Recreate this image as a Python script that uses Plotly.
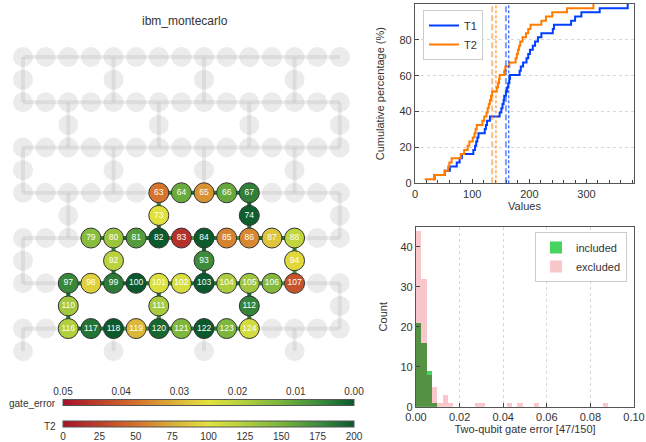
import numpy as np
import plotly.graph_objects as go
from plotly.colors import sample_colorscale

backend_name = "ibm_montecarlo"

# heavy-hex layout: 7 rows of 15 qubits, 4 bridge qubits below each row
row_first = [0, 19, 38, 57, 76, 95, 114]
bridge_first = [15, 34, 53, 72, 91, 110, 129]
bridge_cols_even = [0, 4, 8, 12]
bridge_cols_odd = [2, 6, 10, 14]
row_len = 15

# selected qubits with their T1 / T2 (us)
sel_qubits = [63, 64, 65, 66, 67, 73, 74, 79, 80, 81, 82, 83, 84, 85, 86, 87, 88, 92, 93, 94,
              97, 98, 99, 100, 101, 102, 103, 104, 105, 106, 107, 110, 111, 112,
              116, 117, 118, 119, 120, 121, 122, 123, 124]
sel_t2 = [52, 156, 64, 158, 182, 101, 198, 143, 135, 165, 202, 17, 221, 58, 60, 86, 118, 121, 176, 95,
          178, 92, 184, 240, 104, 106, 229, 127, 133, 145, 35, 131, 129, 180,
          125, 188, 266, 80, 194, 147, 312, 148, 108]
sel_t1 = [122, 189, 105, 241, 153, 161, 221, 82, 198, 148, 273, 34, 210, 109, 131, 155, 166, 102, 201, 126,
          183, 73, 243, 291, 159, 111, 206, 151, 163, 195, 52, 124, 165, 215,
          107, 280, 323, 61, 185, 156, 372, 78, 32]

# two-qubit gates between selected qubits and their error
cz_pairs = [(63, 64), (64, 65), (65, 66), (66, 67), (63, 73), (73, 82), (67, 74), (74, 86),
            (79, 80), (80, 81), (81, 82), (82, 83), (83, 84), (84, 85), (85, 86), (86, 87), (87, 88),
            (80, 92), (92, 99), (84, 93), (93, 103), (88, 94), (94, 107),
            (97, 98), (98, 99), (99, 100), (100, 101), (101, 102), (102, 103), (103, 104),
            (104, 105), (105, 106), (106, 107),
            (97, 110), (110, 116), (101, 111), (111, 120), (105, 112), (112, 124),
            (116, 117), (117, 118), (118, 119), (119, 120), (120, 121), (121, 122), (122, 123), (123, 124)]
cz_error = [0.0031, 0.0019, 0.0024, 0.0016, 0.0052, 0.0022, 0.0014, 0.0036,
            0.0041, 0.0018, 0.0021, 0.0058, 0.0081, 0.0027, 0.0063, 0.0019, 0.0033,
            0.0055, 0.0023, 0.0012, 0.0017, 0.0044, 0.0067,
            0.0029, 0.0015, 0.0011, 0.0020, 0.0038, 0.0022, 0.0026,
            0.0013, 0.0047, 0.0059,
            0.0018, 0.0034, 0.0016, 0.0050, 0.0021, 0.0039,
            0.0010, 0.0028, 0.0061, 0.0043, 0.0019, 0.0031, 0.0035, 0.0054]

# histogram of the other 103 gates
bin_size = 0.00245
excluded_counts = [44, 32, 8, 5, 1, 3, 1, 0, 0, 0, 0, 1, 1, 0, 0, 0, 0, 1,
                   0, 1, 0, 0, 1, 0, 0, 0, 0, 0, 0, 0, 0, 0, 0, 0, 0, 1]
n_edges_total = 150

t2_ticks = [0, 25, 50, 75, 100, 125, 150, 175, 200]
err_ticks = [0.0, 0.01, 0.02, 0.03, 0.04, 0.05]

cscale = [[0.0, "rgb(168,16,42)"], [0.25, "rgb(212,112,44)"], [0.4, "rgb(220,184,58)"],
          [0.5, "rgb(226,226,60)"], [0.62, "rgb(180,208,62)"], [0.75, "rgb(120,180,60)"],
          [0.88, "rgb(60,140,60)"], [1.0, "rgb(10,90,45)"]]

FONT = "Liberation Sans, Arial, sans-serif"
W, H = 646, 442
unit = 22.63

# positions / edges of the full device
pos = {}
all_edges = []
for r, q0 in enumerate(row_first):
    cols = bridge_cols_even if r % 2 == 0 else bridge_cols_odd
    for c in range(row_len):
        pos[q0 + c] = (c, 2 * r)
        if c < row_len - 1:
            all_edges.append((q0 + c, q0 + c + 1))
    for k, c in enumerate(cols):
        b = bridge_first[r] + k
        pos[b] = (c, 2 * r + 1)
        all_edges.append((q0 + c, b))
        if r + 1 < len(row_first):
            all_edges.append((b, row_first[r + 1] + c))

fig = go.Figure()

ex, ey = [], []
for a, b in all_edges:
    ex += [pos[a][0], pos[b][0], None]
    ey += [pos[a][1], pos[b][1], None]
fig.add_trace(go.Scatter(x=ex, y=ey, mode="lines", line=dict(color="rgba(170,170,170,0.22)", width=4),
                         hoverinfo="skip", showlegend=False))
qs = sorted(pos)
fig.add_trace(go.Scatter(x=[pos[q][0] for q in qs], y=[pos[q][1] for q in qs], mode="markers",
                         marker=dict(size=20, color="rgba(170,170,170,0.24)", line=dict(width=0)),
                         hoverinfo="skip", showlegend=False))

edge_cols = sample_colorscale(cscale, [(0.05 - e) / 0.05 for e in cz_error])
for (a, b), col in zip(cz_pairs, edge_cols):
    fig.add_trace(go.Scatter(x=[pos[a][0], pos[b][0]], y=[pos[a][1], pos[b][1]], mode="lines",
                             line=dict(color=col, width=4), hoverinfo="skip", showlegend=False))

fig.add_trace(go.Scatter(
    x=[pos[q][0] for q in sel_qubits], y=[pos[q][1] for q in sel_qubits],
    mode="markers+text", text=[str(q) for q in sel_qubits],
    textfont=dict(color="white", size=8.5, family=FONT), textposition="middle center",
    marker=dict(size=20, color=sel_t2, colorscale=cscale, cmin=0, cmax=200,
                line=dict(color="#333333", width=1),
                colorbar=dict(orientation="h", x=63 / W, xanchor="left", len=291 / W, lenmode="fraction",
                              y=1 - 430 / H, yanchor="middle", thickness=6, xpad=0, ypad=0,
                              outlinewidth=1, outlinecolor="#555555", tickvals=t2_ticks, ticks="",
                              tickfont=dict(size=10, color="#333333", family=FONT))),
    showlegend=False, hovertemplate="Q%{text}<br>T2=%{marker.color}<extra></extra>"))

# dummy trace carrying the gate_error colorbar (scale shown right-to-left)
fig.add_trace(go.Scatter(
    x=cz_error, y=[0] * len(cz_error), xaxis="x4", yaxis="y4", mode="markers",
    marker=dict(size=1, opacity=0, color=[-e for e in cz_error], colorscale=cscale, cmin=-0.05, cmax=0,
                colorbar=dict(orientation="h", x=63 / W, xanchor="left", len=291 / W, lenmode="fraction",
                              y=1 - 403 / H, yanchor="middle", thickness=6, xpad=0, ypad=0,
                              outlinewidth=1, outlinecolor="#555555", showticklabels=False, ticks="")),
    hoverinfo="skip", showlegend=False))

# CDF of T1 / T2
for name, vals, col in [("T1", sel_t1, "#023eff"), ("T2", sel_t2, "#ff7c00")]:
    v = np.sort(vals)
    pct = np.arange(1, len(v) + 1) / len(v) * 100
    fig.add_trace(go.Scatter(x=v, y=pct, mode="lines", line=dict(color=col, width=2, shape="hv"),
                             name=name, xaxis="x2", yaxis="y2", legend="legend"))
    fig.add_shape(type="line", xref="x2", yref="y2 domain", x0=np.median(v), x1=np.median(v), y0=0, y1=1,
                  line=dict(color=col, width=2, dash="6px,3px"), opacity=0.5)
    fig.add_shape(type="line", xref="x2", yref="y2 domain", x0=np.mean(v), x1=np.mean(v), y0=0, y1=1,
                  line=dict(color=col, width=1, dash="3px,2px"))

# gate error histogram
nb = len(excluded_counts)
edges_bins = np.arange(nb + 1) * bin_size
centers = (edges_bins[:-1] + edges_bins[1:]) / 2
included_counts = np.histogram(cz_error, bins=edges_bins)[0]
overlap = np.minimum(included_counts, excluded_counts)
fig.add_trace(go.Bar(x=centers, y=excluded_counts, width=bin_size, marker=dict(color="#f9c6cc", line=dict(width=0)),
                     name="excluded", xaxis="x3", yaxis="y3", legend="legend2"))
fig.add_trace(go.Bar(x=centers, y=included_counts, width=bin_size, marker=dict(color="#48d460", line=dict(width=0)),
                     name="included", xaxis="x3", yaxis="y3", legend="legend2"))
fig.add_trace(go.Bar(x=centers, y=overlap, width=bin_size, marker=dict(color="#559243", line=dict(width=0)),
                     showlegend=False, xaxis="x3", yaxis="y3", hoverinfo="skip"))

axis_style = dict(showline=True, linecolor="#555555", linewidth=1.2, mirror=True, ticks="inside",
                  ticklen=4, tickcolor="#444444", zeroline=False,
                  tickfont=dict(size=11, color="#333333", family=FONT))

fig.update_layout(
    width=W, height=H, margin=dict(l=0, r=0, t=0, b=0, autoexpand=False),
    paper_bgcolor="white", plot_bgcolor="white",
    font=dict(family=FONT, color="#333333", size=11),
    barmode="overlay", bargap=0,
    xaxis=dict(domain=[0, 363 / W], range=[-23 / unit, (363 - 23) / unit], visible=False),
    yaxis=dict(domain=[1 - 375 / H, 1 - 34 / H], range=[(375 - 57) / unit, (34 - 57) / unit], visible=False),
    xaxis2=dict(domain=[415 / W, 634 / W], range=[0, 383], tickvals=[0, 100, 200, 300], anchor="y2",
                showgrid=False, title=dict(text="Values", font=dict(size=11), standoff=2),
                minor=dict(dtick=20, tick0=0, ticks="inside", ticklen=3, tickcolor="#444444"),
                **axis_style),
    yaxis2=dict(domain=[1 - 183.3 / H, 1 - 4 / H], range=[0, 100], dtick=20, anchor="x2",
                showgrid=True, gridcolor="#d8d8d8", griddash="dot", gridwidth=1,
                title=dict(text="Cumulative percentage (%)", font=dict(size=11), standoff=12),
                **axis_style),
    xaxis3=dict(domain=[416 / W, 634 / W], range=[0, 0.1], dtick=0.02, tickformat=".2f", anchor="y3",
                showgrid=True, gridcolor="#d8d8d8", griddash="dot",
                title=dict(text="Two-qubit gate error [%d/%d]" % (len(cz_error), n_edges_total),
                           font=dict(size=11), standoff=2),
                **axis_style),
    yaxis3=dict(domain=[1 - 406.7 / H, 1 - 226.7 / H], range=[0, 45], dtick=10, anchor="x3",
                showgrid=False, title=dict(text="Count", font=dict(size=11), standoff=10),
                **axis_style),
    xaxis4=dict(domain=[63 / W, 354 / W], range=[0.05, 0], tickvals=err_ticks, tickformat=".2f",
                side="top", anchor="y4", showline=False, showgrid=False, zeroline=False, ticks="",
                tickfont=dict(size=10, color="#333333", family=FONT), fixedrange=True),
    yaxis4=dict(domain=[1 - 401 / H, 1 - 398 / H], visible=False, fixedrange=True),
    legend=dict(x=423 / W, y=1 - 10 / H, xanchor="left", yanchor="top", bgcolor="white",
                bordercolor="#cccccc", borderwidth=1, font=dict(size=11), tracegroupgap=0),
    legend2=dict(x=627 / W, y=1 - 232 / H, xanchor="right", yanchor="top", bgcolor="white",
                 bordercolor="#cccccc", borderwidth=1, font=dict(size=11), traceorder="reversed"),
    annotations=[
        dict(text=backend_name, x=185 / W, y=1 - 21 / H, xref="paper", yref="paper", showarrow=False,
             xanchor="center", yanchor="middle", font=dict(size=12, color="#333333")),
        dict(text="gate_error", x=58 / W, y=1 - 403 / H, xref="paper", yref="paper", xanchor="right",
             yanchor="middle", showarrow=False, font=dict(size=10, color="#333333")),
        dict(text="T2", x=58 / W, y=1 - 426 / H, xref="paper", yref="paper", xanchor="right",
             yanchor="middle", showarrow=False, font=dict(size=10, color="#333333")),
    ],
)

# drop the default page margin so the figure sits at the window origin
fig.write_html("out.html", config={"displayModeBar": False},
               post_script="document.body.style.margin='0';")
